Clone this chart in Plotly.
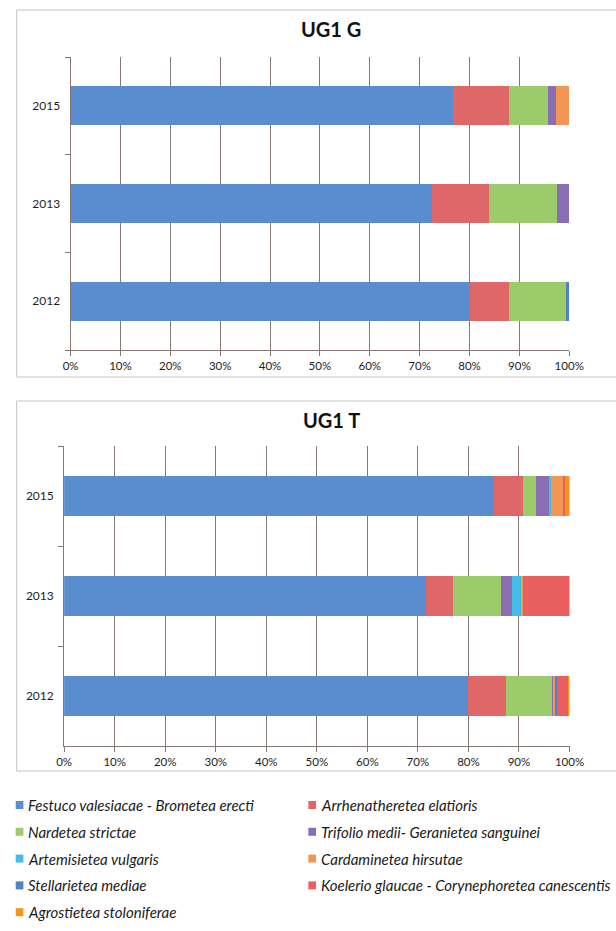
import plotly.graph_objects as go

# Years shown on each panel (bottom to top)
years = ["2012", "2013", "2015"]

# Vegetation classes, in stacking / legend order
classes = [
    "Festuco valesiacae - Brometea erecti",
    "Arrhenatheretea elatioris",
    "Nardetea strictae",
    "Trifolio medii- Geranietea sanguinei",
    "Artemisietea vulgaris",
    "Cardaminetea hirsutae",
    "Stellarietea mediae",
    "Koelerio glaucae - Corynephoretea canescentis",
    "Agrostietea stoloniferae",
]

colors = [
    "#5a8dd0", "#e06767", "#9ccb6b", "#8a6db3", "#45bde4",
    "#f49653", "#4f82c6", "#e95f5f", "#f7931f",
]

# Share (%) of each class per year, values ordered as `years`
ug1_g = {
    "Festuco valesiacae - Brometea erecti": [80.1, 72.4, 76.6],
    "Arrhenatheretea elatioris": [7.8, 11.6, 11.4],
    "Nardetea strictae": [11.5, 13.5, 7.8],
    "Trifolio medii- Geranietea sanguinei": [0.0, 2.5, 1.5],
    "Artemisietea vulgaris": [0.0, 0.0, 0.0],
    "Cardaminetea hirsutae": [0.0, 0.0, 2.7],
    "Stellarietea mediae": [0.6, 0.0, 0.0],
    "Koelerio glaucae - Corynephoretea canescentis": [0.0, 0.0, 0.0],
    "Agrostietea stoloniferae": [0.0, 0.0, 0.0],
}

ug1_t = {
    "Festuco valesiacae - Brometea erecti": [79.9, 71.7, 85.0],
    "Arrhenatheretea elatioris": [7.6, 5.3, 5.8],
    "Nardetea strictae": [9.1, 9.5, 2.5],
    "Trifolio medii- Geranietea sanguinei": [0.3, 2.2, 2.7],
    "Artemisietea vulgaris": [0.0, 1.7, 0.3],
    "Cardaminetea hirsutae": [0.3, 0.4, 2.5],
    "Stellarietea mediae": [0.4, 0.0, 0.0],
    "Koelerio glaucae - Corynephoretea canescentis": [2.2, 9.2, 0.4],
    "Agrostietea stoloniferae": [0.2, 0.0, 0.8],
}

panel_titles = ["UG1 G", "UG1 T"]
x_ticks = list(range(0, 101, 10))

W, H = 616, 931
FONT = "Lato"
GRID = "#857873"


def px_x(v):
    return v / W


def px_y(v):
    return 1 - v / H


fig = go.Figure()

for panel, (data, axis_id) in enumerate([(ug1_g, ""), (ug1_t, "2")]):
    for name, col in zip(classes, colors):
        fig.add_trace(go.Bar(
            y=years, x=data[name], name=name, orientation="h",
            marker=dict(color=col, line=dict(width=0)),
            xaxis="x" + axis_id, yaxis="y" + axis_id,
            showlegend=False,
        ))

# Plot-area geometry in pixels: (left, right, top, bottom)
areas = [(65, 583, 57, 350), (58.3, 583.3, 446, 746)]

axis_common_x = dict(
    range=[0, 100], tickmode="array", tickvals=x_ticks,
    ticktext=[f"{t}%" for t in x_ticks],
    showgrid=True, gridcolor=GRID, gridwidth=1,
    showline=True, linecolor=GRID, linewidth=1,
    ticks="outside", ticklen=5, tickcolor=GRID,
    zeroline=False, fixedrange=True,
    tickfont=dict(family=FONT, size=11.5, color="#1e1e1e"),
)
axis_common_y = dict(
    type="category", categoryorder="array", categoryarray=years,
    showline=True, linecolor=GRID, linewidth=1,
    ticks="outside", ticklen=5, tickcolor=GRID, tickson="boundaries",
    ticklabelstandoff=7, showgrid=False, zeroline=False, fixedrange=True,
    tickfont=dict(family=FONT, size=12, color="#1e1e1e"),
)

layout = dict(
    width=W, height=H, margin=dict(l=0, r=0, t=0, b=0),
    paper_bgcolor="white", plot_bgcolor="white",
    barmode="stack", bargap=0.6, showlegend=False,
)
for i, (l, r, t, b) in enumerate(areas):
    sfx = "" if i == 0 else str(i + 1)
    layout["xaxis" + sfx] = dict(axis_common_x, domain=[px_x(l), px_x(r)],
                                 anchor="y" + sfx)
    layout["yaxis" + sfx] = dict(axis_common_y, domain=[px_y(b), px_y(t)],
                                 anchor="x" + sfx)
fig.update_layout(**layout)

# Chart frames
shapes = []
for top, bottom in [(10, 377), (401, 771)]:
    shapes.append(dict(
        type="rect", xref="paper", yref="paper",
        x0=px_x(9), x1=1.05, y0=px_y(bottom), y1=px_y(top),
        line=dict(color="#c4c4c4", width=1), fillcolor="rgba(0,0,0,0)",
        layer="below",
    ))

annotations = []
for title, ty in zip(panel_titles, [29, 420]):
    annotations.append(dict(
        text=f"<b>{title}</b>", xref="paper", yref="paper",
        x=px_x(336), y=px_y(ty), xanchor="center", yanchor="middle",
        showarrow=False, font=dict(family=FONT, size=20, color="#111111"),
    ))

# Two-column legend, filled row by row
for k, (name, col) in enumerate(zip(classes, colors)):
    row, c = divmod(k, 2)
    cy = 805 + row * 26.8
    sx = 8 if c == 0 else 312
    shapes.append(dict(
        type="rect", xref="paper", yref="paper",
        x0=px_x(sx), x1=px_x(sx + 8), y0=px_y(cy + 4), y1=px_y(cy - 4),
        line=dict(width=0), fillcolor=col,
    ))
    annotations.append(dict(
        text=f"<i>{name}</i>", xref="paper", yref="paper",
        x=px_x(sx + 11), y=px_y(cy), xanchor="left", yanchor="middle",
        showarrow=False, font=dict(family=FONT, size=15, color="#1a1a1a"),
    ))

fig.update_layout(shapes=shapes, annotations=annotations)
fig.write_html("out.html")
